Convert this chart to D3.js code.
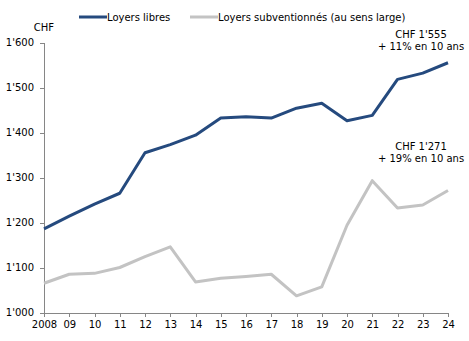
<!DOCTYPE html>
<html>
<head>
<meta charset="utf-8">
<script src="https://cdn.jsdelivr.net/npm/d3@7"></script>
<style>
  body { margin: 0; background: #fff; }
  text { font-family: "DejaVu Sans", sans-serif; font-size: 10px; fill: #000; }
</style>
</head>
<body>
<svg id="chart"></svg>
<script>
// data
const years = [2008, 2009, 2010, 2011, 2012, 2013, 2014, 2015, 2016, 2017, 2018, 2019, 2020, 2021, 2022, 2023, 2024];
const yearLabels = ["2008", "09", "10", "11", "12", "13", "14", "15", "16", "17", "18", "19", "20", "21", "22", "23", "24"];
const libres = [1186, 1214, 1241, 1265, 1355, 1373, 1394, 1432, 1435, 1432, 1454, 1465, 1426, 1438, 1518, 1532, 1555];
const subv = [1065, 1085, 1087, 1100, 1124, 1146, 1068, 1076, 1080, 1085, 1037, 1057, 1194, 1293, 1232, 1239, 1271];
const yTicks = [1000, 1100, 1200, 1300, 1400, 1500, 1600];
const seriesNames = ["Loyers libres", "Loyers subventionnés (au sens large)"];
const colors = ["#254a7e", "#c3c3c3"];

const w = 469, h = 341;
const margin = { top: 42.5, right: 21, bottom: 28.5, left: 44 };

const svg = d3.select("#chart").attr("width", w).attr("height", h);

const x = d3.scaleLinear().domain([2008, 2024]).range([margin.left, w - margin.right]);
const y = d3.scaleLinear().domain([1000, 1600]).range([h - margin.bottom, margin.top]);

const fmt = v => String(v).replace(/\B(?=(\d{3})+(?!\d))/g, "'");

// y axis
const yAxis = svg.append("g")
  .attr("transform", `translate(${margin.left},0)`)
  .call(d3.axisLeft(y).tickValues(yTicks).tickFormat(fmt).tickSize(4).tickPadding(6));

// x axis
const xAxis = svg.append("g")
  .attr("transform", `translate(0,${h - margin.bottom})`)
  .call(d3.axisBottom(x).tickValues(years).tickFormat((d, i) => yearLabels[i]).tickSize(4).tickPadding(4));

[yAxis, xAxis].forEach(g => {
  g.selectAll("path, line").attr("stroke", "#868686").attr("shape-rendering", "crispEdges");
  g.selectAll("text").style("font-family", "DejaVu Sans, sans-serif").style("font-size", "10px").attr("fill", "#000");
});

svg.append("text").attr("x", 44).attr("y", 31).attr("text-anchor", "middle").text("CHF");

const line = d3.line().x((d, i) => x(years[i])).y(d => y(d));

[subv, libres].forEach((s, k) => {
  svg.append("path")
    .datum(s)
    .attr("fill", "none")
    .attr("stroke", k === 0 ? colors[1] : colors[0])
    .attr("stroke-width", 3)
    .attr("stroke-linejoin", "round")
    .attr("d", line);
});

// legend
const legendX = [79, 190];
seriesNames.forEach((name, i) => {
  svg.append("line")
    .attr("x1", legendX[i]).attr("x2", legendX[i] + 28)
    .attr("y1", 17).attr("y2", 17)
    .attr("stroke", colors[i]).attr("stroke-width", 3);
  svg.append("text")
    .attr("x", legendX[i] + 28).attr("y", 21)
    .text(name);
});

// annotations
const notes = [
  { lines: ["CHF " + fmt(libres[libres.length - 1]), "+ 11% en 10 ans"], y: 38 },
  { lines: ["CHF " + fmt(subv[subv.length - 1]), "+ 19% en 10 ans"], y: 150 }
];
notes.forEach(n => {
  const t = svg.append("text").attr("text-anchor", "middle");
  n.lines.forEach((l, i) => {
    t.append("tspan").attr("x", 421).attr("y", n.y + i * 12).text(l);
  });
});
</script>
</body>
</html>
